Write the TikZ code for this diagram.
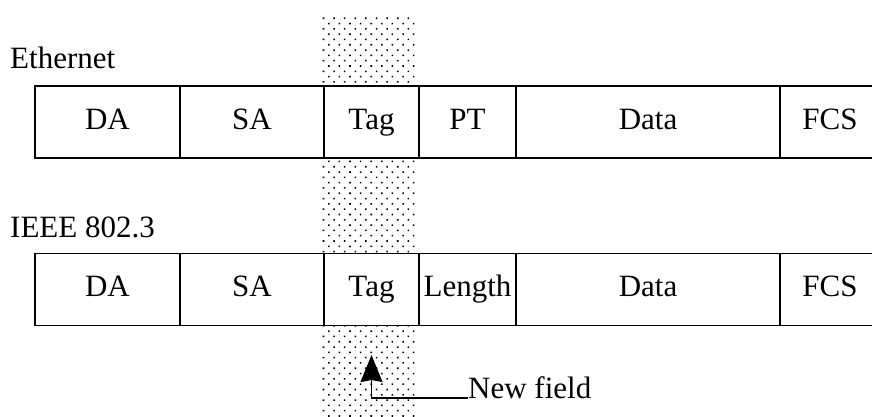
\documentclass[tikz,border=0pt]{standalone}
\usepackage{fontspec}
\setmainfont{Liberation Serif}
\usetikzlibrary{positioning,patterns.meta,arrows.meta}
\begin{document}
\begin{tikzpicture}[x=1pt,y=-1pt,
            every node/.style={font=\fontsize{31}{36}\selectfont},
            field/.style={draw,line width=1.7pt,fill=white,minimum height=72pt,
                outer sep=0pt,inner sep=0pt,text height=21pt,text depth=7pt},
            label/.style={anchor=base west,inner sep=0pt}]
            \useasboundingbox (0,0) rectangle (872,416);
            \fill[pattern={Dots[distance=7.5pt,angle=45,radius=1.1pt]}] (322,15) rectangle (417,416);
            \node[label] (eth) at (10,68) {Ethernet};
            \node[field,minimum width=145pt,anchor=west] (DA1) at (35,122) {DA};
            \node[field,minimum width=144pt,right=0pt of DA1] (SA1) {SA};
            \node[field,minimum width=95pt,right=0pt of SA1] (Tag1) {Tag};
            \node[field,minimum width=97pt,right=0pt of Tag1] (PT1) {PT};
            \node[field,minimum width=264pt,right=0pt of PT1] (Data1) {Data};
            \node[field,minimum width=100pt,right=0pt of Data1] (FCS1) {FCS};
            \node[label] (ieee) at (10,237) {IEEE 802.3};
            \node[field,minimum width=145pt,anchor=west] (DA2) at (35,289.5) {DA};
            \node[field,minimum width=144pt,right=0pt of DA2] (SA2) {SA};
            \node[field,minimum width=95pt,right=0pt of SA2] (Tag2) {Tag};
            \node[field,minimum width=97pt,right=0pt of Tag2] (Len2) {Length};
            \node[field,minimum width=264pt,right=0pt of Len2] (Data2) {Data};
            \node[field,minimum width=100pt,right=0pt of Data2] (FCS2) {FCS};
            \node[label] (new) at (468,398) {New field};
            \coordinate (tip) at (Tag2.center |- 0,355);
            \draw[line width=1.6pt,-{Stealth[length=27pt,width=22pt,inset=2pt]}] (new.base west) -| (tip);
        \end{tikzpicture}
\end{document}
